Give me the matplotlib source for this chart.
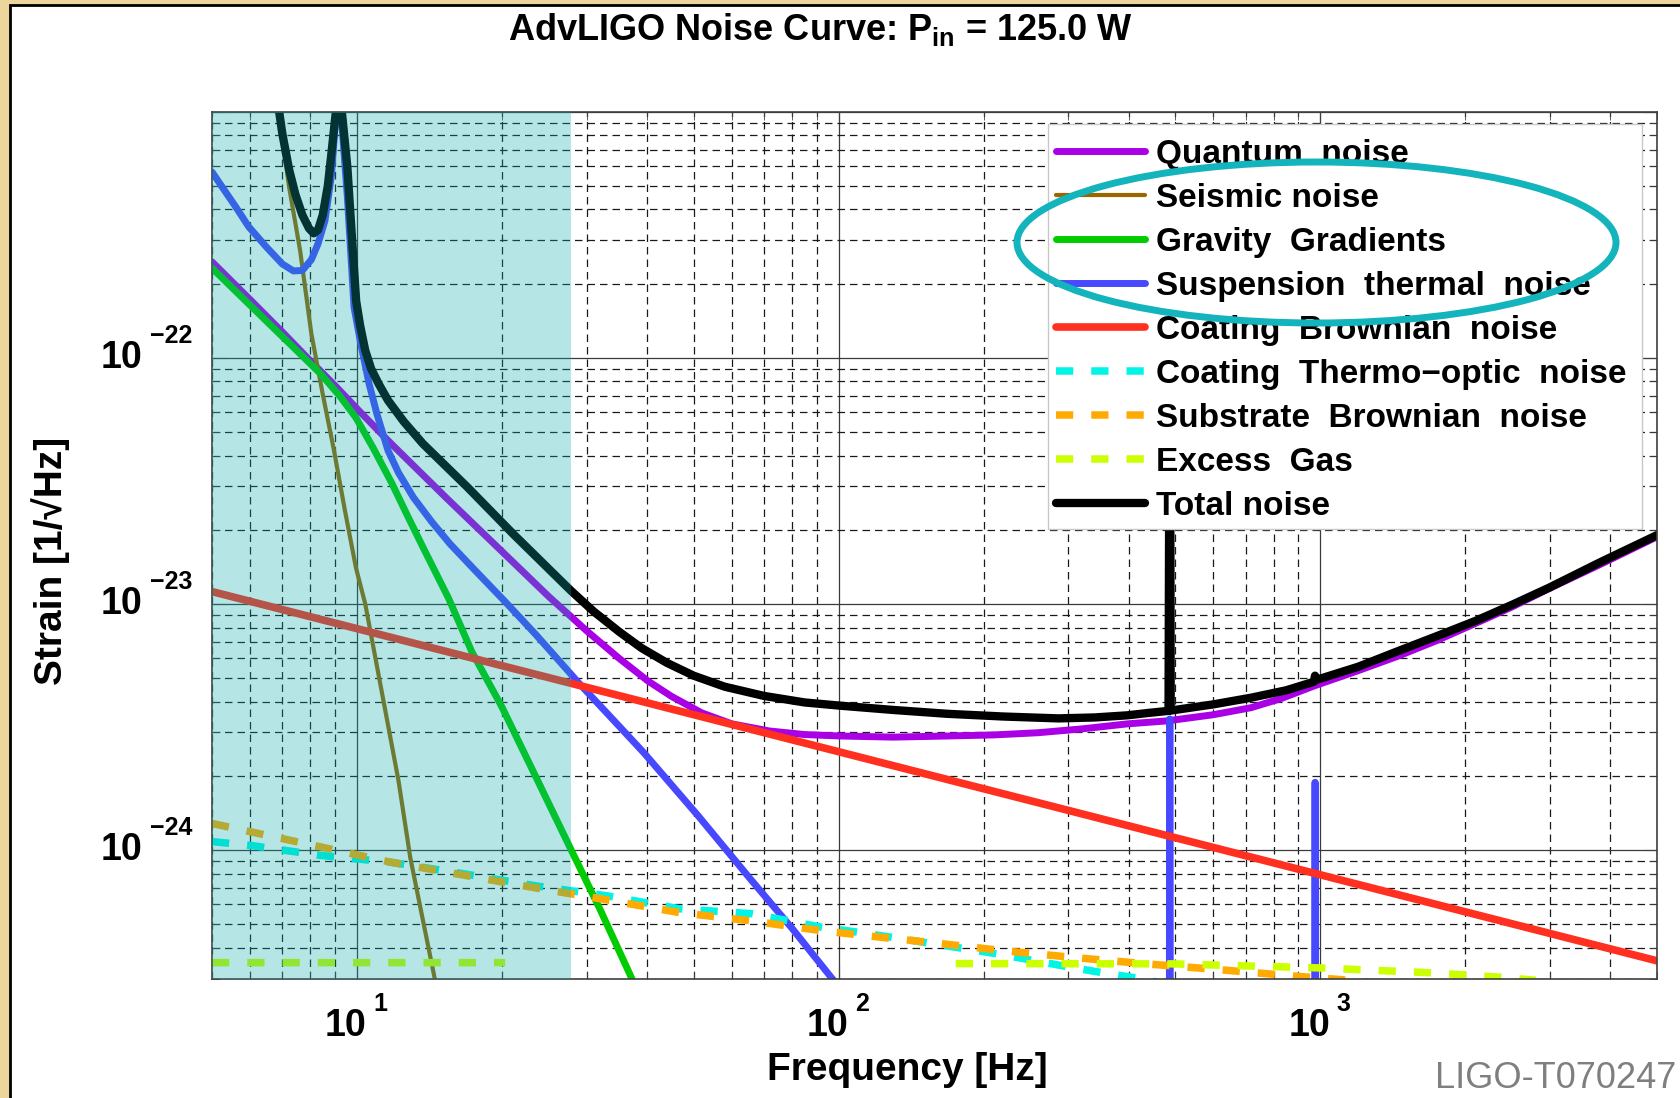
import numpy as np
import matplotlib
matplotlib.use("Agg")
import matplotlib.pyplot as plt
from matplotlib.patches import Ellipse, Rectangle
from matplotlib.ticker import LogLocator, NullFormatter
from matplotlib.transforms import offset_copy

plt.rcParams["font.family"] = ["Liberation Sans", "DejaVu Sans"]
plt.rcParams["mathtext.fontset"] = "custom"
plt.rcParams["mathtext.rm"] = "Liberation Sans:bold"
plt.rcParams["mathtext.bf"] = "Liberation Sans:bold"
plt.rcParams["mathtext.it"] = "Liberation Sans:bold"

# noise budget, frequency [Hz] and strain [1/sqrt(Hz)]
quantum_f = [5, 6, 7, 8, 9, 10, 11.6, 15.3, 20.2, 25, 30, 35, 40.2, 45, 52, 60, 71.8,
             85, 101, 130, 168, 210, 259, 320, 398, 480, 600, 718, 830, 973, 1200,
             1459, 1750, 2095, 2500, 2980, 3800, 5000]
quantum_h = [2.45e-22, 1.72e-22, 1.27e-22, 9.7e-23, 7.7e-23, 6.2e-23, 4.6e-23,
             2.7e-23, 1.6e-23, 1.07e-23, 7.75e-24, 6.0e-24, 4.85e-24, 4.2e-24,
             3.6e-24, 3.25e-24, 3.04e-24, 2.94e-24, 2.9e-24, 2.87e-24, 2.9e-24,
             2.93e-24, 2.99e-24, 3.1e-24, 3.25e-24, 3.34e-24, 3.54e-24, 3.78e-24,
             4.12e-24, 4.64e-24, 5.35e-24, 6.15e-24, 7.1e-24, 8.3e-24, 9.7e-24,
             1.15e-23, 1.44e-23, 1.87e-23]

seismic_f = [6.8, 7.23, 7.62, 8.04, 8.49, 8.96, 9.44, 9.95, 10.4, 12.2, 12.9, 14.5, 15.2]
seismic_h = [1.15e-21, 4.92e-22, 2.72e-22, 1.25e-22, 7.1e-23, 4.19e-23, 2.39e-23,
             1.4e-23, 1.0e-23, 1.9e-24, 9.3e-25, 3.0e-25, 2.0e-25]

gravity_f = [5, 8.4, 9.2, 9.95, 10.8, 11.8, 12.7, 13.7, 15.5, 17.3, 20, 23.6, 27.9,
             32, 37.2, 40]
gravity_h = [2.31e-22, 8.6e-23, 7.0e-23, 5.7e-23, 4.3e-23, 3.1e-23, 2.3e-23, 1.7e-23,
             1.05e-23, 6.4e-24, 3.8e-24, 1.95e-24, 9.9e-25, 5.7e-25, 3.0e-25, 2.2e-25]

susp_f = [5, 5.3, 5.6, 5.96, 6.5, 7.0, 7.38, 7.7, 8.04, 8.3, 8.58, 8.85, 9.05, 9.13,
          9.3, 9.55, 9.86, 10.2, 10.6, 11.0, 11.6, 12.2, 13.1, 14.3, 15.6, 17.5, 20.2,
          23.5, 28.9, 33, 39.4, 51, 65.8, 80, 96.9, 120,
          485, 486.5, 487.5, 489, 972, 974.5, 976, 978.5, 5000]
susp_h = [5.68e-22, 4.8e-22, 4.1e-22, 3.4e-22, 2.8e-22, 2.4e-22, 2.25e-22, 2.26e-22,
          2.5e-22, 2.9e-22, 3.6e-22, 5.5e-22, 1.0e-21, 2e-21, 9e-22, 4.5e-22, 1.6e-22,
          1.12e-22, 7.8e-23, 5.9e-23, 4.19e-23, 3.4e-23, 2.7e-23, 2.15e-23, 1.75e-23,
          1.38e-23, 1.03e-23, 7.5e-24, 4.75e-24, 3.6e-24, 2.48e-24, 1.38e-24, 7.55e-25,
          4.8e-25, 3.0e-25, 1.85e-25,
          1e-27, 3.4e-24, 3.4e-24, 1e-27, 1e-27, 1.88e-24, 1.88e-24, 1e-27, 1e-27]

coating_br_f = [5, 5000]
coating_br_h = [1.12e-23, 3.54e-25]

thermo_f = [5, 6.06, 8.36, 11.77, 16.6, 23.5, 33.1, 46.7, 66, 93, 112, 135, 213,
            309, 362, 422, 500]
thermo_h = [1.08e-24, 1.04e-24, 9.5e-25, 8.9e-25, 8.0e-25, 7.14e-25, 6.5e-25,
            5.76e-25, 5.5e-25, 4.83e-25, 4.6e-25, 4.35e-25, 3.78e-25, 3.31e-25,
            3.14e-25, 3.0e-25, 2.8e-25]

substrate_f = [5, 6.06, 8.36, 11.77, 16.6, 23.5, 32.4, 46.7, 66, 93, 131, 156, 220,
               313, 436, 627, 880, 1100, 1500]
substrate_h = [1.28e-24, 1.18e-24, 1.03e-24, 8.9e-25, 7.9e-25, 7.0e-25, 6.3e-25,
               5.56e-25, 5.14e-25, 4.68e-25, 4.35e-25, 4.2e-25, 3.89e-25, 3.64e-25,
               3.44e-25, 3.25e-25, 3.07e-25, 2.97e-25, 2.8e-25]

gas_f = [5, 20.3, 60, 175, 493, 1010, 1720, 2400, 2800]
gas_h = [3.48e-25, 3.48e-25, np.nan, 3.45e-25, 3.44e-25, 3.31e-25, 3.16e-25,
         3.03e-25, 2.95e-25]

total_f = [6.82, 7.0, 7.23, 7.45, 7.7, 7.95, 8.13, 8.3, 8.49, 8.7, 8.86, 9.04, 9.13,
           9.3, 9.55, 9.75, 9.96, 10.15, 10.4, 10.7, 11.1, 11.6, 12.5, 13.7, 17.0,
           21.1, 27.8, 31, 35, 39, 44, 50, 58, 70, 85, 101, 130, 168,
           220, 286, 340, 398, 440, 484, 486.5, 487.5, 489, 600, 718, 850, 970, 975,
           980, 1200, 1459, 1750, 2095, 2500, 2980, 3800, 5000]
total_h = [1.15e-21, 8.1e-22, 5.8e-22, 4.6e-22, 3.8e-22, 3.35e-22, 3.2e-22, 3.3e-22,
           3.8e-22, 5.0e-22, 6.9e-22, 1.0e-21, 2e-21, 1.0e-21, 5.94e-22, 3.18e-22,
           1.7e-22, 1.35e-22, 1.07e-22, 9.0e-23, 7.8e-23, 6.7e-23, 5.5e-23, 4.47e-23,
           2.96e-23, 1.92e-23, 1.13e-23, 9.3e-24, 7.7e-24, 6.6e-24, 5.75e-24,
           5.1e-24, 4.6e-24, 4.22e-24, 3.97e-24, 3.85e-24, 3.7e-24, 3.57e-24,
           3.48e-24, 3.42e-24, 3.45e-24, 3.52e-24, 3.6e-24, 3.67e-24, 1e-22, 1e-22,
           3.68e-24, 3.9e-24, 4.15e-24, 4.45e-24, 4.82e-24, 5.1e-24, 4.9e-24,
           5.55e-24, 6.45e-24, 7.4e-24, 8.5e-24, 9.9e-24, 1.16e-23, 1.47e-23, 1.9e-23]

curves = [
    ("Quantum  noise", quantum_f, quantum_h, "#aa00e6", "-", 5.0),
    ("Seismic noise", seismic_f, seismic_h, "#996600", "-", 3.0),
    ("Gravity  Gradients", gravity_f, gravity_h, "#00cc00", "-", 5.0),
    ("Suspension  thermal  noise", susp_f, susp_h, "#4848ff", "-", 5.0),
    ("Coating  Brownian  noise", coating_br_f, coating_br_h, "#ff3020", "-", 5.5),
    ("Coating  Thermo\u2212optic  noise", thermo_f, thermo_h, "#00f5e6", "--", 5.4),
    ("Substrate  Brownian  noise", substrate_f, substrate_h, "#ffaa00", "--", 5.4),
    ("Excess  Gas", gas_f, gas_h, "#ccff00", "--", 5.4),
    ("Total noise", total_f, total_h, "black", "-", 6.0),
]

W, H = 1681, 1098
fig = plt.figure(figsize=(W / 100, H / 100), dpi=100, facecolor="#ecd69c")
fig.add_artist(Rectangle((10 / W, -0.02), 1.05, 1.02 - 5 / H, transform=fig.transFigure,
                         facecolor="white", edgecolor="black", lw=2, zorder=-10))

ax = fig.add_axes([212 / W, 1 - 978.5 / H, 1445 / W, 867 / H])
ax.set_xscale("log")
ax.set_yscale("log")
ax.set_xlim(5, 5000)
ax.set_ylim(3e-25, 1e-21)

for label, f, h, color, ls, lw in curves:
    line, = ax.plot(f, h, color=color, lw=lw, label=label, zorder=2,
                    solid_capstyle="round", solid_joinstyle="round")
    if ls == "--":
        line.set_dashes((2.3, 2.4))
        line.set_dash_capstyle("butt")

# low frequency band
ax.axvspan(5, 27.8, color="#0aaaaa", alpha=0.3, lw=0, zorder=4)

ax.xaxis.set_minor_locator(LogLocator(base=10, subs=np.arange(2, 10), numticks=20))
ax.yaxis.set_minor_locator(LogLocator(base=10, subs=np.arange(2, 10), numticks=20))
ax.xaxis.set_minor_formatter(NullFormatter())
ax.yaxis.set_minor_formatter(NullFormatter())
ax.set_axisbelow(True)
ax.grid(which="major", ls="-", color="#3a3a3a", lw=0.9)
ax.grid(which="minor", ls=(0, (6, 4)), color="#1a1a1a", lw=0.9)
ax.tick_params(which="both", direction="in", top=True, right=True,
               labelleft=False, labelbottom=False, color="#404040")
ax.tick_params(which="major", length=10)
ax.tick_params(which="minor", length=6)
for sp in ax.spines.values():
    sp.set_color("#404040")
    sp.set_linewidth(1.2)

# MATLAB-style power-of-ten tick labels
ytr = ax.get_yaxis_transform()
for e in (-22, -23, -24):
    ax.text(-0.048, 10.0 ** e, "10", transform=ytr, ha="right", va="center",
            fontsize=27, fontweight="bold")
    ax.text(-0.043, 10.0 ** e, "\u2212%d" % -e,
            transform=offset_copy(ytr, fig=fig, y=21.5, units="dots"),
            ha="left", va="center", fontsize=18, fontweight="bold")
xtr = ax.get_xaxis_transform()
for e in (1, 2, 3):
    ax.text(10.0 ** e, -0.0548, "10",
            transform=offset_copy(xtr, fig=fig, x=-11, units="dots"),
            ha="center", va="center", fontsize=27, fontweight="bold")
    ax.text(10.0 ** e, -0.0294, "%d" % e,
            transform=offset_copy(xtr, fig=fig, x=16, units="dots"),
            ha="left", va="center", fontsize=18, fontweight="bold")

# legend box drawn separately so its edges can be placed freely
ax.add_patch(Rectangle((0.5786, 0.519), 0.411, 0.4666, transform=ax.transAxes,
                       facecolor="white", edgecolor="#c8c8c8", lw=1.0, zorder=5.5,
                       clip_on=False))
leg = ax.legend(loc="upper right", bbox_to_anchor=(0.9896, 0.9856), borderaxespad=0,
                prop={"size": 24, "weight": "bold"}, handlelength=2.67,
                handletextpad=0.33, borderpad=0.45, labelspacing=0.39,
                frameon=False)
leg.set_zorder(6)

fig.text(821 / W, 1 - 29 / H, r"AdvLIGO Noise Curve: $\mathbf{P_{in}}$ = 125.0 W",
         ha="center", va="center", fontsize=26, fontweight="bold")
fig.text(907 / W, 1 - 1070 / H, "Frequency [Hz]", ha="center", va="center",
         fontsize=28, fontweight="bold")
fig.text(51 / W, 1 - 561 / H, "Strain [1/\u221aHz]", ha="center", va="center",
         rotation=90, fontsize=28, fontweight="bold")
fig.text(1676 / W, 1 - 1078 / H, "LIGO-T070247", ha="right", va="center",
         fontsize=26, color="#7f7f7f")

# highlight around the low-frequency terms in the legend
fig.add_artist(Ellipse((1316.5 / W, 1 - 242.5 / H), 599 / W, 161 / H,
                       transform=fig.transFigure, fill=False, edgecolor="#14b4bc",
                       lw=5, zorder=10))

fig.savefig("out.png", dpi=100, facecolor=fig.get_facecolor())
